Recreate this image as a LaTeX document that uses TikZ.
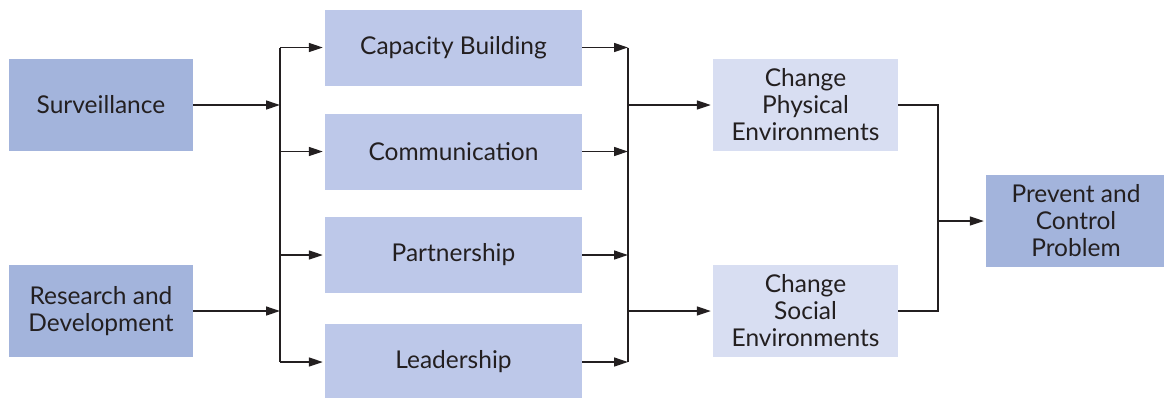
\documentclass[tikz,border=0pt]{standalone}
\usepackage{fontspec}
\setmainfont{Lato}
\usetikzlibrary{arrows.meta}
\definecolor{cdark}{HTML}{A3B4DC}
\definecolor{cmid}{HTML}{BDC8E9}
\definecolor{clight}{HTML}{D8DEF2}
\definecolor{ctext}{HTML}{231F20}
\begin{document}
\begin{tikzpicture}[x=1pt,y=-1pt,
  box/.style={draw=none,inner sep=0pt,align=center,text=ctext,
    font=\fontsize{24.5}{27}\selectfont},
  outbox/.style={box,fill=cdark,minimum width=184pt,minimum height=92pt},
  midbox/.style={box,fill=cmid,minimum width=257pt,minimum height=76pt},
  chbox/.style={box,fill=clight,minimum width=185pt,minimum height=92pt},
  conn/.style={draw=ctext,line width=1.3pt},
  arr/.style={conn,-{Triangle[length=14pt,width=9pt]}},
]
\useasboundingbox (0,0) rectangle (1164,397);
% nodes
\node[outbox] (surv) at (101,105) {Surveillance};
\node[outbox] (rd) at (101,311) {Research and\\Development};
\node[midbox] (cap) at (453.5,47.5) {Capacity Building};
\node[midbox] (com) at (453.5,151.5) {Communication};
\node[midbox] (par) at (453.5,255) {Partnership};
\node[midbox] (lead) at (453.5,362) {Leadership};
\node[chbox] (phys) at (805.5,105) {Change\\Physical\\Environments};
\node[chbox] (soc) at (805.5,311) {Change\\Social\\Environments};
\node[box,fill=cdark,minimum width=180pt,minimum height=92pt] (prev) at (1076,221) {Prevent and\\Control\\Problem};
% junction columns
\coordinate (j1) at (280,0);
\coordinate (j2) at (628,0);
\coordinate (j3) at (938,0);
% left inputs
\draw[arr] (surv.east) -- (surv.east -| j1);
\draw[arr] (rd.east) -- (rd.east -| j1);
\draw[conn] (j1 |- cap.west) -- (j1 |- lead.west);
\foreach \n in {cap,com,par,lead}
  \draw[arr,shorten >=2pt] (j1 |- \n.west) -- (\n.west);
% middle outputs
\foreach \n in {cap,com,par,lead}
  \draw[arr] (\n.east) -- (\n.east -| j2);
\draw[conn] (j2 |- cap.east) -- (j2 |- lead.east);
\draw[arr,shorten >=2pt] (j2 |- phys.west) -- (phys.west);
\draw[arr,shorten >=2pt] (j2 |- soc.west) -- (soc.west);
% right merge
\draw[conn] (phys.east) -- (phys.east -| j3) -- (j3 |- soc.east) -- (soc.east);
\draw[arr,shorten >=2pt] (j3 |- prev.west) -- (prev.west);
\end{tikzpicture}
\end{document}
